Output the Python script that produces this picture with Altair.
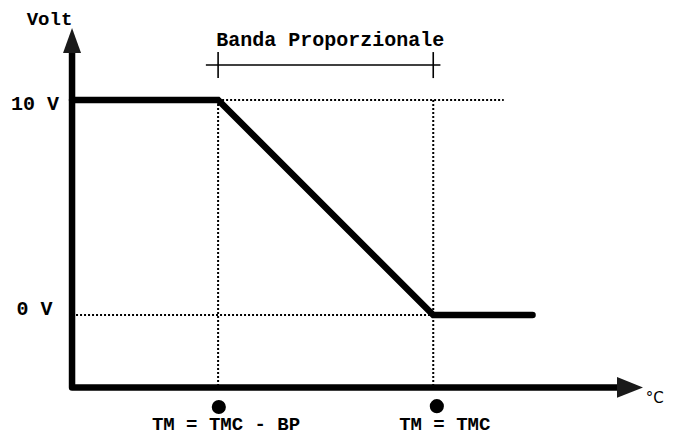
import altair as alt
import pandas as pd

# Conceptual coordinates (x: temperature units, y: volts)
X_DOMAIN = [-8.9, 82.41]
Y_DOMAIN = [-5.674, 14.28]

# Characteristic curve
curve_x = [0, 20.3, 50.2, 64.0]
curve_y = [10, 10, 0, 0]

# Axes (drawn as a path: top of y axis -> origin -> end of x axis)
axis_x = [0, 0, 75.75]
axis_y = [12.19, -3.37, -3.37]

# Dotted guide segments: x, x2, y, y2
dot_x1 = [20.3, 0, 20.3, 50.2]
dot_x2 = [60.0, 50.2, 20.3, 50.2]
dot_y1 = [10, 0, 10, 10]
dot_y2 = [10, 0, -3.37, -3.37]

# Bracket "Banda Proporzionale"
br_x1 = [18.6, 20.3, 50.2]
br_x2 = [51.2, 20.3, 50.2]
br_y1 = [11.63, 12.23, 12.23]
br_y2 = [11.63, 11.02, 11.02]

# Arrow heads
arrow_up = {"x": [0], "y": [12.77]}
arrow_right = {"x": [77.55], "y": [-3.37]}

# Markers under x axis
marker_x = [20.4, 50.7]
marker_y = [-4.28, -4.24]

# Labels (alphabetic baseline)
label_text = ["Volt", "10 V", "0 V", "Banda Proporzionale", "TM = TMC - BP", "TM = TMC"]
label_x = [-3.13, -5.14, -5.21, 35.9, 21.4, 51.8]
label_y = [13.51, 9.53, 0.0, 12.51, -5.37, -5.37]
label_size = [19, 20, 20, 20, 19, 19]

unit_text = ["°C"]
unit_x = [81.0]
unit_y = [-4.09]

xs = alt.Scale(domain=X_DOMAIN, nice=False, zero=False)
ys = alt.Scale(domain=Y_DOMAIN, nice=False, zero=False)

def X(f="x"):
    return alt.X(f"{f}:Q", scale=xs, axis=None)

def Y(f="y"):
    return alt.Y(f"{f}:Q", scale=ys, axis=None)

dotted = alt.Chart(pd.DataFrame({"x": dot_x1, "x2": dot_x2, "y": dot_y1, "y2": dot_y2})).mark_rule(
    color="black", strokeWidth=2, strokeDash=[2, 2]
).encode(x=X(), x2="x2:Q", y=Y(), y2="y2:Q")

bracket = alt.Chart(pd.DataFrame({"x": br_x1, "x2": br_x2, "y": br_y1, "y2": br_y2})).mark_rule(
    color="black", strokeWidth=1.6
).encode(x=X(), x2="x2:Q", y=Y(), y2="y2:Q")

axes = alt.Chart(pd.DataFrame({"x": axis_x, "y": axis_y, "o": [0, 1, 2]})).mark_line(
    color="black", strokeWidth=6.5, strokeJoin="round", strokeCap="butt"
).encode(x=X(), y=Y(), order="o:O")

curve = alt.Chart(pd.DataFrame({"x": curve_x, "y": curve_y, "o": [0, 1, 2, 3]})).mark_line(
    color="black", strokeWidth=6.5, strokeCap="round", strokeJoin="miter"
).encode(x=X(), y=Y(), order="o:O")

arr_up = alt.Chart(pd.DataFrame(arrow_up)).mark_point(
    shape="M0,-1L0.72,1L-0.72,1Z", size=625, filled=True, color="#1a1a1a", opacity=1, strokeWidth=0
).encode(x=X(), y=Y())

arr_right = alt.Chart(pd.DataFrame(arrow_right)).mark_point(
    shape="M1,0L-1,0.8L-1,-0.8Z", size=676, filled=True, color="#1a1a1a", opacity=1, strokeWidth=0
).encode(x=X(), y=Y())

markers = alt.Chart(pd.DataFrame({"x": marker_x, "y": marker_y})).mark_circle(
    size=200, color="black", opacity=1
).encode(x=X(), y=Y())

labels = alt.Chart(pd.DataFrame({"x": label_x, "y": label_y, "t": label_text, "s": label_size})).mark_text(
    font="Liberation Mono", fontWeight="bold", color="black", align="center", baseline="alphabetic"
).encode(x=X(), y=Y(), text="t:N", size=alt.Size("s:Q", scale=None, legend=None))

unit = alt.Chart(pd.DataFrame({"x": unit_x, "y": unit_y, "t": unit_text})).mark_text(
    font="DejaVu Sans", fontSize=15, color="black", align="center", baseline="alphabetic"
).encode(x=X(), y=Y(), text="t:N")

chart = alt.layer(dotted, bracket, axes, curve, arr_up, arr_right, markers, labels, unit).properties(
    width=657, height=429, autosize=alt.AutoSizeParams(type="none"), padding=0, background="white"
).configure_view(stroke=None)

chart.save("out.html", embed_options={"renderer": "svg", "actions": False})
